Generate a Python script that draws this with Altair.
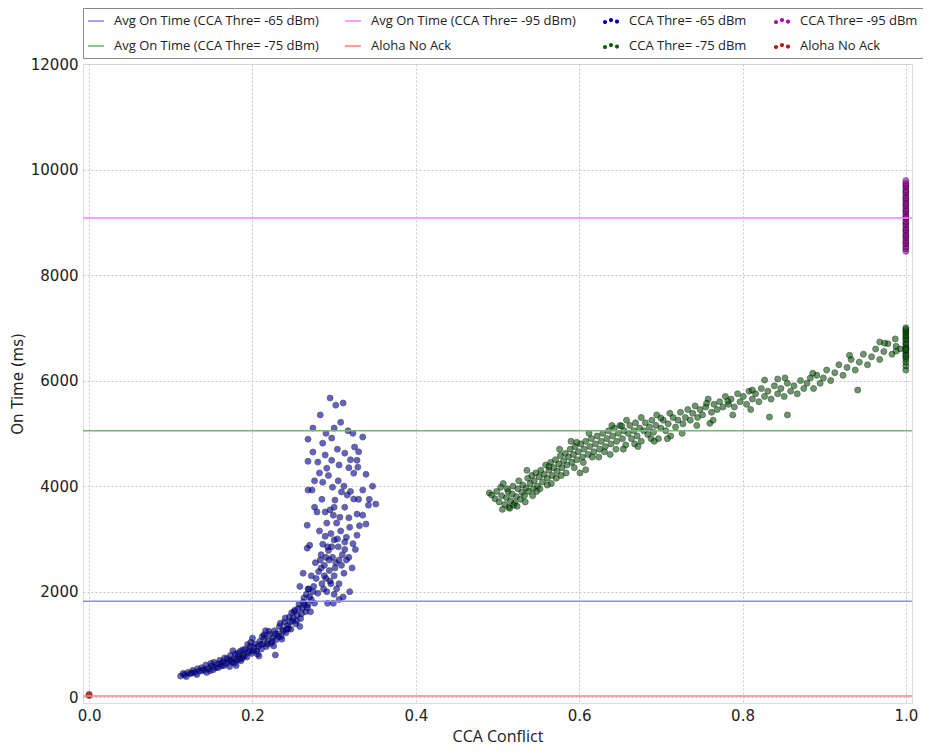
import altair as alt
import pandas as pd

# ---------------- data ----------------
AVG65 = "Avg On Time (CCA Thre= -65 dBm)"
AVG75 = "Avg On Time (CCA Thre= -75 dBm)"
AVG95 = "Avg On Time (CCA Thre= -95 dBm)"
ALOHA_L = "Aloha No Ack"
CCA65 = "CCA Thre= -65 dBm"
CCA75 = "CCA Thre= -75 dBm"
CCA95 = "CCA Thre= -95 dBm"
ALOHA_P = "Aloha No Ack "

avg_names = [AVG65, AVG75, AVG95, ALOHA_L]
avg_values = [1820, 5050, 9080, 25]

cca65_points = [
    (0.112, 400), (0.117, 430), (0.121, 470), (0.124, 445), (0.127, 510), (0.130, 470), (0.133, 540),
    (0.135, 495), (0.138, 560), (0.141, 520), (0.143, 610), (0.146, 545), (0.148, 500), (0.150, 590),
    (0.153, 660), (0.155, 560), (0.157, 625), (0.160, 700), (0.162, 590), (0.164, 670), (0.166, 745),
    (0.168, 640), (0.171, 690), (0.173, 790), (0.175, 660), (0.177, 730), (0.179, 820), (0.181, 705),
    (0.183, 770), (0.185, 870), (0.187, 735), (0.189, 800), (0.191, 905), (0.193, 760), (0.195, 850),
    (0.197, 960), (0.199, 830), (0.201, 880), (0.203, 1010), (0.205, 875), (0.207, 960), (0.209, 1060),
    (0.211, 915), (0.213, 1010), (0.215, 1130), (0.217, 960), (0.219, 1070), (0.221, 1190), (0.223, 1020),
    (0.225, 1130), (0.227, 1260), (0.229, 1090), (0.231, 1200), (0.233, 1340), (0.235, 1150), (0.237, 1280),
    (0.239, 1420), (0.241, 1220), (0.243, 1360), (0.245, 1520), (0.247, 1290), (0.249, 1450), (0.251, 1620),
    (0.253, 1390), (0.255, 1560), (0.257, 1760), (0.259, 1490), (0.261, 1690), (0.263, 1880), (0.265, 1620),
    (0.172, 580), (0.186, 690), (0.194, 1000), (0.208, 780), (0.214, 1180), (0.226, 970), (0.236, 1100),
    (0.244, 1300), (0.252, 1650), (0.258, 1340), (0.268, 1750), (0.271, 1620), (0.266, 1950),
    (0.115, 450), (0.119, 390), (0.126, 460), (0.132, 430), (0.139, 500), (0.144, 470), (0.149, 640),
    (0.152, 520), (0.158, 560), (0.161, 640), (0.165, 600), (0.169, 730), (0.174, 700), (0.178, 650),
    (0.182, 830), (0.184, 720), (0.188, 900), (0.190, 780), (0.196, 880), (0.198, 1040), (0.202, 940),
    (0.206, 820), (0.210, 1000), (0.212, 1150), (0.218, 1010), (0.220, 1250), (0.224, 1060), (0.228, 1200),
    (0.232, 1150), (0.234, 1400), (0.238, 1250), (0.240, 1500), (0.242, 1290), (0.246, 1420), (0.248, 1600),
    (0.250, 1500), (0.254, 1450), (0.256, 1680), (0.260, 1580), (0.264, 1750), (0.267, 1700), (0.269, 2050),
    (0.272, 1850), (0.274, 2000), (0.228, 800), (0.216, 1260), (0.180, 600), (0.200, 1120), (0.176, 880),
    (0.295, 5670), (0.311, 5575), (0.302, 5535), (0.308, 5210), (0.274, 5100), (0.323, 5000), (0.335, 4930),
    (0.268, 4890), (0.286, 4815), (0.297, 4910), (0.325, 4740), (0.274, 4645), (0.289, 4590), (0.297, 4490),
    (0.268, 4470), (0.280, 4455), (0.313, 4625), (0.328, 4490), (0.329, 4360), (0.339, 4225), (0.291, 4340),
    (0.324, 4245), (0.286, 4075), (0.298, 3980), (0.268, 3925), (0.273, 3925), (0.335, 3925), (0.309, 3890),
    (0.301, 3735), (0.324, 3755), (0.330, 3750), (0.342, 3640), (0.351, 3660), (0.276, 3600), (0.316, 3830),
    (0.279, 3510), (0.289, 3510), (0.307, 3410), (0.328, 3470), (0.335, 3450), (0.339, 3280), (0.267, 3260),
    (0.319, 3220), (0.315, 3030), (0.328, 3070), (0.313, 2940), (0.323, 2910), (0.267, 2825), (0.270, 2880),
    (0.282, 3150), (0.291, 3300), (0.296, 3100), (0.300, 2980), (0.286, 2900), (0.293, 2780), (0.305, 2850),
    (0.310, 2700), (0.298, 2650), (0.284, 2700), (0.277, 2550), (0.288, 2500), (0.302, 2550), (0.309, 2500),
    (0.318, 2650), (0.322, 2450), (0.294, 2400), (0.281, 2380), (0.272, 2300), (0.262, 2350), (0.290, 2250),
    (0.300, 2300), (0.312, 2350), (0.306, 2150), (0.296, 2150), (0.285, 2150), (0.275, 2100), (0.268, 2050),
    (0.280, 1970), (0.291, 2000), (0.303, 2055), (0.300, 1950), (0.311, 1900), (0.319, 2000), (0.276, 1780),
    (0.292, 1780), (0.299, 1780), (0.270, 1900), (0.258, 2100), (0.262, 1800), (0.306, 1850),
    (0.283, 2600), (0.290, 2650), (0.297, 2850), (0.315, 2600), (0.326, 2800), (0.318, 3400), (0.331, 3250),
    (0.303, 3300), (0.295, 3550), (0.285, 3750), (0.305, 4100), (0.318, 4350), (0.282, 4250), (0.304, 4700),
    (0.317, 5050), (0.330, 4650), (0.283, 5350), (0.347, 4000), (0.343, 3750), (0.278, 2250), (0.287, 2050),
    (0.294, 2600), (0.308, 3150), (0.299, 3450), (0.312, 4000), (0.320, 4500), (0.276, 4100),
    (0.288, 2300), (0.295, 2200), (0.301, 2450), (0.284, 2450), (0.292, 2850), (0.306, 2600), (0.313, 2800),
    (0.304, 3000), (0.289, 3050), (0.300, 3600), (0.313, 3600), (0.320, 3900), (0.306, 4400), (0.293, 4200),
    (0.300, 5100), (0.290, 5000),
]

cca75_points = [
    (0.490, 3870), (0.493, 3830), (0.497, 3760), (0.499, 3900), (0.502, 3700), (0.504, 3980), (0.505, 3820),
    (0.507, 4050), (0.509, 3650), (0.511, 3780), (0.513, 3900), (0.514, 3600), (0.516, 3720), (0.518, 3850),
    (0.519, 4000), (0.521, 3680), (0.523, 3800), (0.525, 3950), (0.526, 4100), (0.528, 3750), (0.530, 3880),
    (0.531, 4020), (0.533, 3820), (0.535, 3960), (0.537, 4150), (0.538, 3900), (0.540, 4050), (0.542, 4200),
    (0.544, 3950), (0.545, 4100), (0.547, 4250), (0.549, 4000), (0.551, 4180), (0.553, 4300), (0.555, 4080),
    (0.557, 4220), (0.559, 4400), (0.561, 4150), (0.563, 4300), (0.565, 4450), (0.567, 4200), (0.569, 4350),
    (0.571, 4500), (0.573, 4280), (0.575, 4420), (0.577, 4580), (0.579, 4350), (0.581, 4480), (0.583, 4620),
    (0.585, 4400), (0.587, 4550), (0.589, 4700), (0.591, 4450), (0.593, 4600), (0.595, 4750), (0.597, 4500),
    (0.599, 4650), (0.602, 4800), (0.604, 4550), (0.606, 4700), (0.608, 4850), (0.611, 4600), (0.613, 4750),
    (0.615, 4900), (0.618, 4650), (0.620, 4800), (0.622, 4950), (0.625, 4700), (0.627, 4850), (0.629, 5000),
    (0.632, 4750), (0.634, 4900), (0.636, 5050), (0.639, 4800), (0.641, 4950), (0.643, 5100), (0.646, 4850),
    (0.648, 5000), (0.650, 5150), (0.653, 4900), (0.655, 5050), (0.657, 4780), (0.660, 5000), (0.662, 5150),
    (0.664, 4900), (0.667, 5050), (0.669, 5200), (0.671, 4950), (0.674, 5100), (0.676, 4850), (0.679, 5050),
    (0.681, 5200), (0.684, 4980), (0.686, 5120), (0.689, 5250), (0.691, 5020), (0.694, 5150), (0.697, 4900),
    (0.700, 5100), (0.703, 5250), (0.706, 5050), (0.709, 5180), (0.712, 4950), (0.715, 5300), (0.718, 5120),
    (0.721, 5250), (0.724, 5400), (0.727, 5180), (0.730, 5300), (0.733, 5450), (0.736, 5250), (0.739, 5380),
    (0.742, 5520), (0.745, 5300), (0.748, 5450), (0.751, 5350), (0.755, 5500), (0.758, 5650), (0.762, 5400),
    (0.765, 5550), (0.769, 5450), (0.772, 5600), (0.776, 5500), (0.779, 5700), (0.783, 5550), (0.786, 5650),
    (0.790, 5500), (0.794, 5750), (0.797, 5600), (0.801, 5700), (0.805, 5550), (0.808, 5800), (0.812, 5650),
    (0.816, 5750), (0.820, 5600), (0.823, 5850), (0.827, 5700), (0.831, 5800), (0.835, 5650), (0.839, 5900),
    (0.843, 5750), (0.847, 5850), (0.851, 5700), (0.855, 5950), (0.859, 5800), (0.863, 5900), (0.867, 5750),
    (0.871, 6000), (0.875, 5850), (0.879, 5950), (0.883, 6050), (0.887, 5850), (0.891, 6100), (0.895, 5950),
    (0.899, 6050), (0.903, 6200), (0.908, 6000), (0.913, 6150), (0.918, 6300), (0.923, 6100), (0.928, 6250),
    (0.933, 6400), (0.938, 6200), (0.943, 6350), (0.948, 6500), (0.953, 6300), (0.958, 6450), (0.963, 6600),
    (0.968, 6400), (0.973, 6550), (0.978, 6700), (0.983, 6500), (0.988, 6650), (0.993, 6600),
    (0.827, 6010), (0.843, 6030), (0.852, 6050), (0.886, 6140), (0.931, 6480), (0.968, 6730), (0.974, 6710),
    (0.987, 6790), (0.988, 6560), (0.941, 5820), (0.833, 5310), (0.855, 5350), (0.760, 5190), (0.711, 5380),
    (0.700, 5290), (0.756, 5570), (0.782, 5610), (0.812, 5820), (0.597, 4830), (0.652, 5140), (0.561, 4020),
    (0.563, 4370), (0.601, 4250), (0.608, 4310), (0.515, 3580), (0.520, 3640), (0.536, 4300), (0.548, 3900),
    (0.572, 4150), (0.584, 4250), (0.616, 4550), (0.631, 4650), (0.645, 4700), (0.668, 4800), (0.688, 4900),
    (0.695, 5350), (0.676, 5300), (0.658, 5250), (0.640, 5150), (0.612, 5000), (0.590, 4850), (0.576, 4700),
    (0.506, 3560), (0.512, 3950), (0.524, 3620), (0.534, 3700), (0.543, 3820), (0.552, 3950), (0.566, 4050),
    (0.578, 4200), (0.594, 4350), (0.605, 4450), (0.624, 4550), (0.638, 4600), (0.654, 4700), (0.672, 4750),
    (0.692, 4850), (0.708, 4900), (0.726, 5000), (0.744, 5150), (0.764, 5250), (0.788, 5350), (0.810, 5450),
    (1.0, 6200), (1.0, 6280), (1.0, 6350), (1.0, 6410), (1.0, 6450), (1.0, 6520), (1.0, 6560), (1.0, 6610),
    (1.0, 6640), (1.0, 6690), (1.0, 6720), (1.0, 6770), (1.0, 6800), (1.0, 6840), (1.0, 6870), (1.0, 6910),
    (1.0, 6940), (1.0, 6970), (1.0, 7000), (1.0, 6590), (1.0, 6480),
]

cca95_points = [
    (1.0, 8450), (1.0, 8500), (1.0, 8540), (1.0, 8590), (1.0, 8620), (1.0, 8660), (1.0, 8710), (1.0, 8740),
    (1.0, 8780), (1.0, 8830), (1.0, 8860), (1.0, 8900), (1.0, 8950), (1.0, 8980), (1.0, 9020), (1.0, 9070),
    (1.0, 9100), (1.0, 9140), (1.0, 9190), (1.0, 9220), (1.0, 9260), (1.0, 9310), (1.0, 9340), (1.0, 9380),
    (1.0, 9430), (1.0, 9460), (1.0, 9500), (1.0, 9550), (1.0, 9580), (1.0, 9620), (1.0, 9670), (1.0, 9700),
    (1.0, 9740), (1.0, 9790),
]

aloha_points = [(0.0, 30), (0.0, 55)]

legend_order = [AVG65, AVG95, CCA65, CCA95, AVG75, ALOHA_L, CCA75, ALOHA_P]
legend_colors = ["#8c8cff", "#ff80ff", "#0000b4", "#b000b0", "#70b870", "#ff8080", "#086008", "#cc1010"]

# ---------------- build tables ----------------
rows = []
for name, pts in [(CCA65, cca65_points), (CCA75, cca75_points), (CCA95, cca95_points), (ALOHA_P, aloha_points)]:
    for x, y in pts:
        rows.append({"series": name, "x": x, "y": y})
points_df = pd.DataFrame(rows)
avg_df = pd.DataFrame({"series": avg_names, "y": avg_values})
legend_df = pd.DataFrame({"series": legend_order})

line_path = "M-1,-0.1L1,-0.1L1,0.1L-1,0.1Z"


def dot(cx, cy, r=0.26):
    return f"M{cx - r},{cy}a{r},{r} 0 1,0 {2 * r},0a{r},{r} 0 1,0 {-2 * r},0Z"


dots_path = dot(-0.75, 0.12) + dot(0.0, -0.12) + dot(0.75, 0.06)
legend_shapes = [line_path, line_path, dots_path, dots_path, line_path, line_path, dots_path, dots_path]

color_scale = alt.Scale(domain=legend_order, range=legend_colors)
shape_scale = alt.Scale(domain=legend_order, range=legend_shapes)

FONT = "DejaVu Sans"

x_scale = alt.Scale(domain=[-0.0075, 1.0075], nice=False, zero=False)
y_scale = alt.Scale(domain=[-110, 12000], nice=False, zero=False)

x_axis = alt.Axis(title="CCA Conflict", values=[0, 0.2, 0.4, 0.6, 0.8, 1.0], format=".1f",
                  grid=True, gridDash=[2, 2], gridColor="#c8c8c8", domain=False, ticks=False,
                  labelFontSize=15, titleFontSize=16, labelPadding=5, titlePadding=5,
                  labelFont=FONT, titleFont="Open Sans", labelColor="#222", titleColor="#222",
                  titleFontWeight="normal")
y_axis = alt.Axis(title="On Time (ms)", values=[0, 2000, 4000, 6000, 8000, 10000, 12000], format="d",
                  grid=True, gridDash=[2, 2], gridColor="#c8c8c8", domain=False, ticks=False,
                  labelFontSize=15, titleFontSize=15, labelPadding=5, titlePadding=5,
                  labelFont=FONT, titleFont=FONT, labelColor="#222", titleColor="#222",
                  titleFontWeight="normal")

legend = alt.Legend(title=None, orient="none", legendX=0, legendY=-56, direction="horizontal",
                    columns=4, symbolSize=256, labelFontSize=13, labelLimit=0,
                    labelFont="Liberation Sans Narrow, Open Sans", labelFontWeight="normal",
                    labelOffset=10, columnPadding=26, rowPadding=10, padding=5,
                    strokeColor="#888", fillColor="white", symbolStrokeWidth=0, labelColor="#222")

legend_layer = alt.Chart(legend_df).mark_point(filled=True, opacity=1, clip=True, size=256).encode(
    x=alt.value(-200), y=alt.value(-200),
    color=alt.Color("series:N", scale=color_scale, legend=legend),
    shape=alt.Shape("series:N", scale=shape_scale, legend=legend),
)

points_layer = alt.Chart(points_df).mark_point(
    filled=True, size=36, opacity=0.62, stroke="#000", strokeWidth=0.8
).encode(
    x=alt.X("x:Q", scale=x_scale, axis=x_axis),
    y=alt.Y("y:Q", scale=y_scale, axis=y_axis),
    color=alt.Color("series:N", scale=color_scale, legend=None),
)

rules_layer = alt.Chart(avg_df).mark_rule(strokeWidth=1.5).encode(
    y=alt.Y("y:Q", scale=y_scale),
    color=alt.Color("series:N", scale=color_scale, legend=None),
)

chart = alt.layer(legend_layer, points_layer, rules_layer).properties(
    width=829, height=639,
    autosize=alt.AutoSizeParams(type="none"),
    padding={"left": 75, "top": 56, "right": 11, "bottom": 43},
).configure_view(stroke="#8a8a8a", strokeWidth=2).configure(background="white")

chart.save("out.html", embed_options={"renderer": "svg", "actions": False})
